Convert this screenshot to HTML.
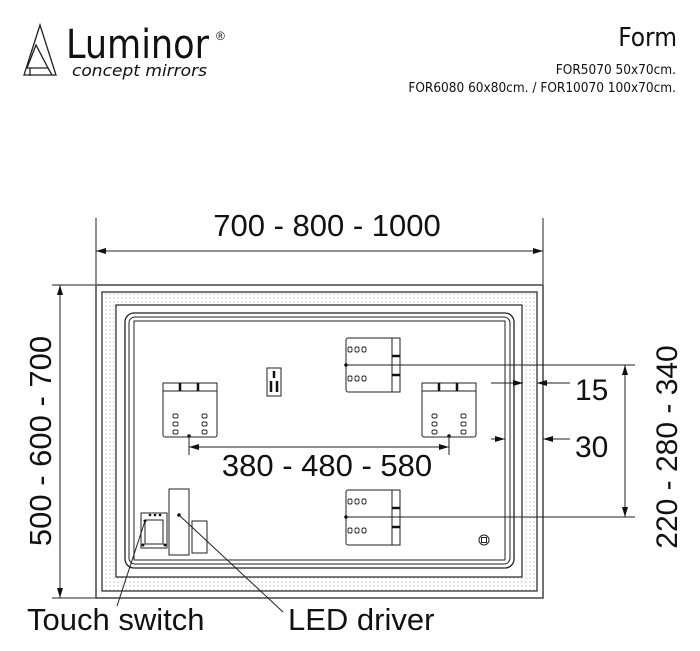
<!DOCTYPE html>
<html><head><meta charset="utf-8"><style>
html,body{margin:0;padding:0;background:#fff;}
svg{display:block;}
text{font-family:"Liberation Sans",sans-serif;fill:#111;}
</style></head><body>
<svg width="700" height="651" viewBox="0 0 700 651" xmlns="http://www.w3.org/2000/svg">
<defs>
<pattern id="dots" width="4" height="4" patternUnits="userSpaceOnUse"><rect width="4" height="4" fill="#fff"/><circle cx="2" cy="2" r="0.6" fill="#aaa"/></pattern>
<marker id="ar" viewBox="0 0 10 6" refX="10" refY="3" markerWidth="10" markerHeight="6" orient="auto-start-reverse" markerUnits="userSpaceOnUse"><path d="M0,0 L10,3 L0,6z" fill="#111"/></marker>
</defs>
<!-- header -->
<g fill="none" stroke="#222" stroke-width="1.3">
<path d="M40,25 L24,75 L56,75 Z"/><path d="M36,45 L27,68 L48,68 Z"/><path d="M30,68 L30,76 M48,68 L52,75"/>
</g>
<text x="66" y="58" font-size="40" textLength="143" lengthAdjust="spacingAndGlyphs" style="font-family:'DejaVu Sans Condensed','Liberation Sans',sans-serif">Luminor</text>
<text x="216" y="40" font-size="12">®</text>
<text x="72" y="76" font-size="16" font-style="italic" textLength="135" lengthAdjust="spacingAndGlyphs" style="font-family:'DejaVu Sans','Liberation Sans',sans-serif">concept mirrors</text>
<text x="677" y="46" font-size="26" text-anchor="end" style="font-family:'DejaVu Sans Condensed','Liberation Sans',sans-serif">Form</text>
<text x="676" y="74" font-size="13.5" text-anchor="end" style="font-family:'DejaVu Sans Condensed','Liberation Sans',sans-serif">FOR5070 50x70cm.</text>
<text x="676" y="92" font-size="13.5" text-anchor="end" style="font-family:'DejaVu Sans Condensed','Liberation Sans',sans-serif">FOR6080 60x80cm. / FOR10070 100x70cm.</text>

<!-- top dimension -->
<g stroke="#222" stroke-width="1" fill="none">
<line x1="96" y1="218" x2="96" y2="284"/><line x1="543" y1="218" x2="543" y2="284"/>
<line x1="96" y1="251" x2="543" y2="251" marker-start="url(#ar)" marker-end="url(#ar)"/>
<line x1="52" y1="285" x2="96" y2="285"/><line x1="52" y1="598" x2="96" y2="598"/>
<line x1="60" y1="285" x2="60" y2="598" marker-start="url(#ar)" marker-end="url(#ar)"/>
</g>
<text x="327" y="236" font-size="31" text-anchor="middle">700 - 800 - 1000</text>
<text transform="translate(51,441) rotate(-90)" font-size="31" text-anchor="middle">500 - 600 - 700</text>

<!-- frame -->
<rect x="96" y="285" width="447" height="313" fill="#fff" stroke="#444" stroke-width="1.5"/>
<rect x="102" y="292" width="435" height="299" fill="url(#dots)" stroke="#222" stroke-width="1.2"/>
<rect x="116" y="305" width="406" height="272" fill="#fff" stroke="#222" stroke-width="1.2"/>
<rect x="125" y="313" width="389" height="255" rx="9" fill="none" stroke="#222" stroke-width="1.3"/>
<rect x="129" y="317" width="381" height="247" rx="6" fill="none" stroke="#222" stroke-width="1"/>
<rect x="134" y="321" width="371" height="239" fill="none" stroke="#222" stroke-width="1"/>

<!-- boxes -->
<g stroke="#222" stroke-width="1" fill="#fff">
<rect x="346" y="338" width="54" height="54" rx="2"/><rect x="392" y="338" width="8" height="54"/>
<rect x="346" y="490" width="54" height="55" rx="2"/><rect x="392" y="490" width="8" height="55"/>
<rect x="163" y="383" width="54" height="54" rx="2"/><rect x="163" y="383" width="54" height="8"/>
<rect x="422" y="383" width="54" height="54" rx="2"/><rect x="422" y="383" width="54" height="8"/>
<rect x="267" y="368" width="14" height="28"/>
<rect x="141" y="513" width="26" height="35"/><rect x="145" y="520" width="18" height="24"/>
<rect x="169" y="489" width="20" height="66"/>
<rect x="192" y="521" width="15" height="32"/>
<circle cx="484" cy="540" r="5"/><rect x="481.5" y="537.5" width="5" height="5"/>
</g>
<g stroke="#111" stroke-width="2.5">
<line x1="392" y1="356" x2="400" y2="356"/><line x1="392" y1="375" x2="400" y2="375"/>
<line x1="392" y1="508" x2="400" y2="508"/><line x1="392" y1="527" x2="400" y2="527"/>
<line x1="180" y1="383" x2="180" y2="391"/><line x1="198" y1="383" x2="198" y2="391"/>
<line x1="439" y1="383" x2="439" y2="391"/><line x1="457" y1="383" x2="457" y2="391"/>
<line x1="274" y1="371" x2="274" y2="378"/><line x1="271" y1="381" x2="271" y2="392"/><line x1="277" y1="381" x2="277" y2="392"/>
</g>
<g fill="none" stroke="#222" stroke-width="0.9">
<g id="r3"><rect x="348" y="347" width="4" height="5" rx="1.5"/><rect x="355" y="347" width="4" height="5" rx="1.5"/><rect x="362" y="347" width="4" height="5" rx="1.5"/></g>
<use href="#r3" y="29"/><use href="#r3" y="152"/><use href="#r3" y="181"/>
<g id="c3"><rect x="173" y="414" width="5" height="4" rx="1.5"/><rect x="173" y="422" width="5" height="4" rx="1.5"/><rect x="173" y="430" width="5" height="4" rx="1.5"/></g>
<use href="#c3" x="29"/><use href="#c3" x="259"/><use href="#c3" x="288"/>
</g>
<g fill="#111">
<circle cx="346" cy="365" r="1.8"/><circle cx="346" cy="517" r="1.8"/><circle cx="189" cy="436" r="1.8"/><circle cx="449" cy="436" r="1.8"/>
<circle cx="179" cy="515" r="1.8"/><circle cx="145" cy="521" r="1.5"/><circle cx="143" cy="545" r="1.5"/><circle cx="165" cy="545" r="1.5"/><circle cx="150" cy="515" r="1.3"/><circle cx="155" cy="515" r="1.3"/><circle cx="160" cy="515" r="1.3"/>
</g>

<!-- inner dims -->
<g stroke="#222" stroke-width="1" fill="none">
<line x1="189" y1="436" x2="189" y2="455"/><line x1="449" y1="436" x2="449" y2="455"/>
<line x1="189" y1="447" x2="449" y2="447" marker-start="url(#ar)" marker-end="url(#ar)"/>
<line x1="346" y1="365" x2="635" y2="365"/><line x1="346" y1="517" x2="635" y2="517"/>
<line x1="625" y1="365" x2="625" y2="517" marker-start="url(#ar)" marker-end="url(#ar)"/>
<line x1="491" y1="383" x2="523" y2="383" marker-end="url(#ar)"/><line x1="570" y1="383" x2="537" y2="383" marker-end="url(#ar)"/>
<line x1="491" y1="439" x2="505" y2="439" marker-end="url(#ar)"/><line x1="570" y1="439" x2="543" y2="439" marker-end="url(#ar)"/>
<line x1="145" y1="521" x2="117" y2="606"/><line x1="179" y1="515" x2="283" y2="612"/>
</g>
<text x="327" y="476" font-size="31" text-anchor="middle">380 - 480 - 580</text>
<text x="575" y="400" font-size="30">15</text>
<text x="575" y="457" font-size="30">30</text>
<text transform="translate(677,447) rotate(-90)" font-size="30" text-anchor="middle">220 - 280 - 340</text>
<text x="27" y="630" font-size="31">Touch switch</text>
<text x="288" y="630" font-size="31">LED driver</text>
</svg>
</body></html>
